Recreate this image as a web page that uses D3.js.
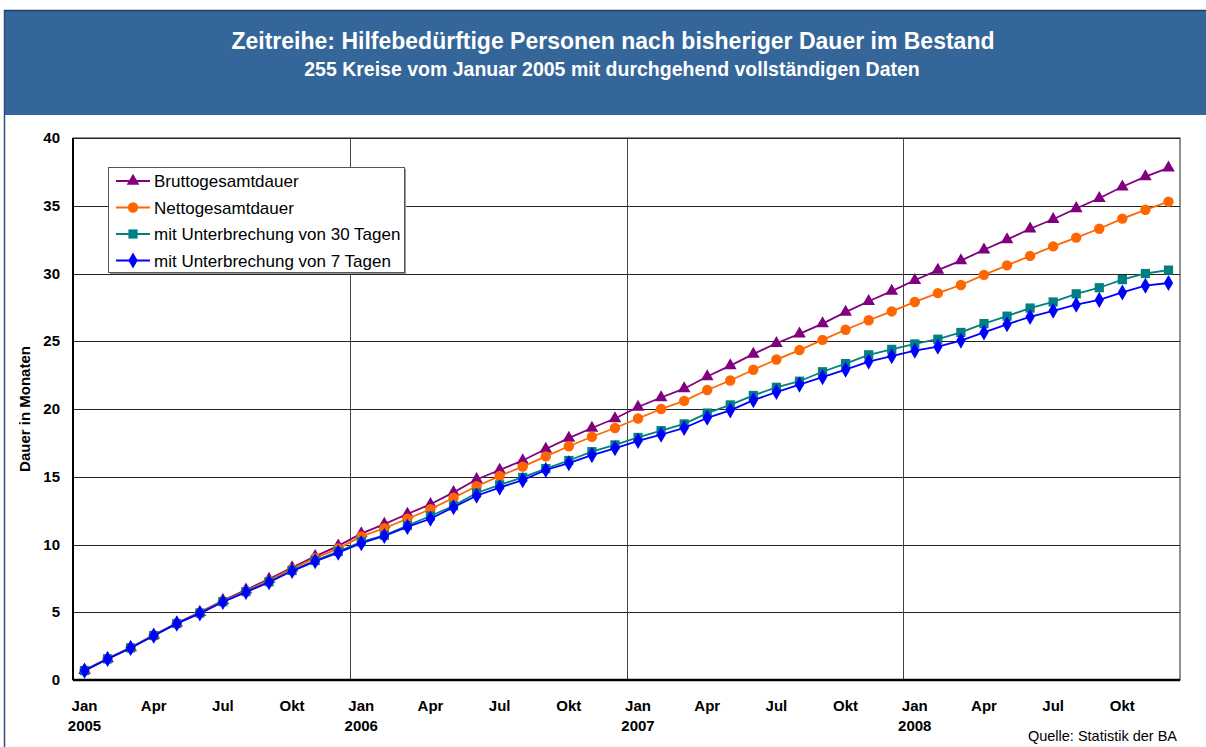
<!DOCTYPE html>
<html>
<head>
<meta charset="utf-8">
<script src="https://d3js.org/d3.v7.min.js"></script>
<style>
    body { margin: 0; background: #fff; font-family: "Liberation Sans", Arial, sans-serif; }
    .tick-lbl { font-size: 15px; font-weight: bold; fill: #000; }
    .legend-txt { font-size: 17px; fill: #000; }
</style>
</head>
<body>
<div id="chart"></div>
<script>
// months Jan 2005 .. Dec 2008
const years = [2005, 2006, 2007, 2008];
const monthNames = ["Jan", "Feb", "Mär", "Apr", "Mai", "Jun", "Jul", "Aug", "Sep", "Okt", "Nov", "Dez"];
const months = years.flatMap(y => monthNames.map((m, i) => y + "-" + (i + 1)));

const brutto = [0.71, 1.58, 2.39, 3.31, 4.21, 5.0, 5.87, 6.65, 7.45, 8.3, 9.12, 9.9,
    10.8, 11.5, 12.25, 12.97, 13.85, 14.8, 15.5, 16.2, 17.05, 17.85, 18.6, 19.3,
    20.15, 20.85, 21.5, 22.4, 23.2, 24.05, 24.85, 25.55, 26.3, 27.15, 27.95, 28.7,
    29.5, 30.25, 30.95, 31.75, 32.5, 33.3, 34.0, 34.8, 35.55, 36.4, 37.15, 37.8];
const netto = [0.7, 1.57, 2.38, 3.3, 4.19, 4.97, 5.83, 6.58, 7.35, 8.2, 9.0, 9.7,
    10.6, 11.2, 11.9, 12.6, 13.45, 14.3, 15.05, 15.75, 16.5, 17.25, 17.95, 18.6,
    19.3, 20.0, 20.6, 21.4, 22.1, 22.9, 23.65, 24.35, 25.1, 25.85, 26.55, 27.2,
    27.9, 28.55, 29.15, 29.9, 30.6, 31.3, 32.0, 32.65, 33.3, 34.05, 34.7, 35.3];
const unterbr30 = [0.7, 1.56, 2.37, 3.28, 4.17, 4.94, 5.78, 6.52, 7.25, 8.08, 8.82, 9.48,
    10.2, 10.68, 11.4, 12.1, 12.85, 13.8, 14.4, 14.95, 15.6, 16.2, 16.85, 17.35,
    17.9, 18.4, 18.9, 19.7, 20.3, 21.0, 21.6, 22.05, 22.75, 23.35, 24.0, 24.4,
    24.8, 25.15, 25.65, 26.3, 26.85, 27.45, 27.9, 28.5, 28.95, 29.55, 30.0, 30.25];
const unterbr7 = [0.69, 1.55, 2.36, 3.27, 4.16, 4.92, 5.76, 6.49, 7.21, 8.04, 8.76, 9.4,
    10.1, 10.63, 11.3, 11.9, 12.75, 13.6, 14.2, 14.75, 15.5, 16.0, 16.6, 17.1,
    17.65, 18.1, 18.6, 19.35, 19.9, 20.65, 21.25, 21.8, 22.35, 22.9, 23.5, 23.9,
    24.3, 24.6, 25.05, 25.65, 26.25, 26.8, 27.25, 27.7, 28.05, 28.6, 29.1, 29.3];
const yTicks = [0, 5, 10, 15, 20, 25, 30, 35, 40];

const series = [
    { name: "Bruttogesamtdauer", values: brutto, color: "#800080", symbol: d3.symbolTriangle, size: 70 },
    { name: "Nettogesamtdauer", values: netto, color: "#FF6600", symbol: d3.symbolCircle, size: 85 },
    { name: "mit Unterbrechung von 30 Tagen", values: unterbr30, color: "#008080", symbol: d3.symbolSquare, size: 85 },
    { name: "mit Unterbrechung von 7 Tagen", values: unterbr7, color: "#0000FF", symbol: d3.symbolDiamond, size: 75 }
];

const W = 1206, H = 747;
const margin = { top: 138, right: 26, bottom: 67, left: 73 };
const width = W - margin.left - margin.right,
    height = H - margin.top - margin.bottom;

const svg = d3.select("#chart").append("svg")
    .attr("width", W).attr("height", H);

// header band
svg.append("rect").attr("x", 4).attr("y", 10).attr("width", W - 4).attr("height", 105)
    .attr("fill", "#346699");
svg.append("line").attr("x1", 4).attr("x2", W).attr("y1", 10.5).attr("y2", 10.5)
    .attr("stroke", "#1f3f6e").attr("stroke-width", 1.5);
svg.append("line").attr("x1", 4.5).attr("x2", 4.5).attr("y1", 10).attr("y2", H)
    .attr("stroke", "#2c4f7c").attr("stroke-width", 1.5);

svg.append("text").attr("x", 613).attr("y", 49).attr("text-anchor", "middle")
    .style("font-size", "23px").style("font-weight", "bold").attr("fill", "#fff")
    .text("Zeitreihe: Hilfebedürftige Personen nach bisheriger Dauer im Bestand");
svg.append("text").attr("x", 612).attr("y", 76).attr("text-anchor", "middle")
    .style("font-size", "19.5px").style("font-weight", "bold").attr("fill", "#fff")
    .text("255 Kreise vom Januar 2005 mit durchgehend vollständigen Daten");

const g = svg.append("g").attr("transform", `translate(${margin.left},${margin.top})`);

const x = d3.scaleBand().domain(months).range([0, width]);
const y = d3.scaleLinear().domain([0, 40]).range([height, 0]);

// horizontal grid
g.append("g").selectAll("line").data(yTicks).join("line")
    .attr("x1", 0).attr("x2", width)
    .attr("y1", d => Math.round(y(d)) + 0.5).attr("y2", d => Math.round(y(d)) + 0.5)
    .attr("stroke", "#222").attr("stroke-width", 1);

// vertical year lines
g.append("g").selectAll("line").data(years.slice(1)).join("line")
    .attr("x1", d => Math.round(x(d + "-1")) + 0.5).attr("x2", d => Math.round(x(d + "-1")) + 0.5)
    .attr("y1", 0).attr("y2", height)
    .attr("stroke", "#444").attr("stroke-width", 1);

// frame
g.append("rect").attr("x", 0).attr("y", 0).attr("width", width).attr("height", height)
    .attr("fill", "none").attr("stroke", "#222").attr("stroke-width", 1);
g.append("line").attr("x1", 0).attr("x2", width).attr("y1", height).attr("y2", height)
    .attr("stroke", "#000").attr("stroke-width", 2.5);
g.append("line").attr("x1", 0).attr("x2", 0).attr("y1", 0).attr("y2", height)
    .attr("stroke", "#000").attr("stroke-width", 2);

// y tick labels
g.append("g").selectAll("text").data(yTicks).join("text")
    .attr("class", "tick-lbl")
    .attr("x", -13).attr("y", d => y(d) + 5)
    .attr("text-anchor", "end")
    .text(d => d);

// x tick labels
const labelled = months.filter((m, i) => i % 3 === 0);
g.append("g").selectAll("text").data(labelled).join("text")
    .attr("class", "tick-lbl")
    .attr("x", d => x(d) + x.bandwidth() / 2)
    .attr("y", height + 31)
    .attr("text-anchor", "middle")
    .text(d => monthNames[+d.split("-")[1] - 1]);
g.append("g").selectAll("text").data(years).join("text")
    .attr("class", "tick-lbl")
    .attr("x", d => x(d + "-1") + x.bandwidth() / 2)
    .attr("y", height + 51)
    .attr("text-anchor", "middle")
    .text(d => d);

// y axis title
svg.append("text")
    .attr("transform", `translate(30,${margin.top + height / 2}) rotate(-90)`)
    .attr("text-anchor", "middle")
    .style("font-size", "15px").style("font-weight", "bold")
    .text("Dauer in Monaten");

// lines + markers
const line = d3.line()
    .x((d, i) => x(months[i]) + x.bandwidth() / 2)
    .y(d => y(d));

series.forEach(s => {
    g.append("path")
        .datum(s.values)
        .attr("fill", "none")
        .attr("stroke", s.color)
        .attr("stroke-width", 1.8)
        .attr("d", line);
    g.append("g").selectAll("path").data(s.values).join("path")
        .attr("transform", (d, i) => `translate(${x(months[i]) + x.bandwidth() / 2},${y(d)})`)
        .attr("d", d3.symbol().type(s.symbol).size(s.size))
        .attr("fill", s.color);
});

// legend
const lg = svg.append("g").attr("transform", "translate(108,167)");
lg.append("rect").attr("x", 2).attr("y", 2).attr("width", 296).attr("height", 105).attr("fill", "#999");
lg.append("rect").attr("x", 0.5).attr("y", 0.5).attr("width", 296).attr("height", 105)
    .attr("fill", "#fff").attr("stroke", "#555");
series.forEach((s, i) => {
    const ly = 14 + i * 26.5;
    lg.append("line").attr("x1", 8).attr("x2", 42).attr("y1", ly).attr("y2", ly)
        .attr("stroke", s.color).attr("stroke-width", 1.8);
    lg.append("path").attr("transform", `translate(25,${ly})`)
        .attr("d", d3.symbol().type(s.symbol).size(s.size)).attr("fill", s.color);
    lg.append("text").attr("class", "legend-txt").attr("x", 46).attr("y", ly + 6).text(s.name);
});

// source
svg.append("text").attr("x", 1177).attr("y", 741).attr("text-anchor", "end")
    .style("font-size", "14.5px").text("Quelle: Statistik der BA");
</script>
</body>
</html>
